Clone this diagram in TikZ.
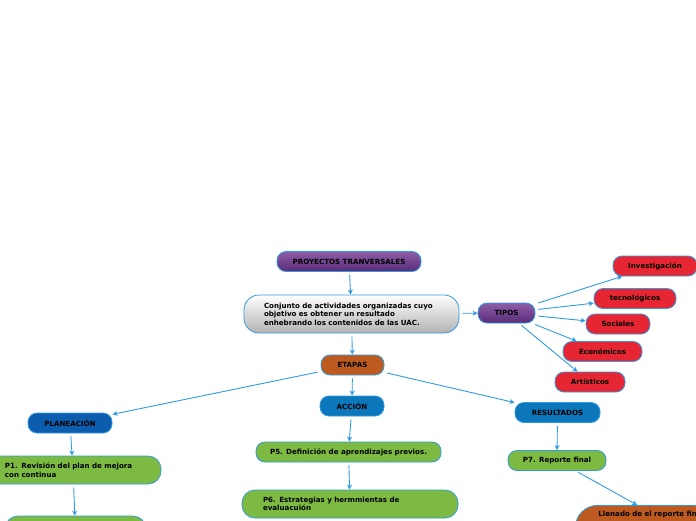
\documentclass[tikz,border=0pt]{standalone}
\usepackage{fontspec}
\setmainfont{DejaVu Sans}
\usepackage{tikz}
\usetikzlibrary{arrows.meta}
\usepackage{xcolor}
\definecolor{edgeBlue}{HTML}{2F9BE3}
\definecolor{purpTop}{HTML}{8D5DA8}
\definecolor{purpBot}{HTML}{5A2B77}
\definecolor{tipoRed}{HTML}{E62632}
\definecolor{stepGreen}{HTML}{7DBA42}
\definecolor{etapaOrange}{HTML}{BD5A1F}
\definecolor{planBlue}{HTML}{0D5DAE}
\definecolor{actBlue}{HTML}{0C77BA}
\definecolor{grayBot}{HTML}{B3B3B3}

\begin{document}
\begin{tikzpicture}[x=1pt, y=-1pt,
    box/.style={draw=edgeBlue, line width=0.8pt, rounded corners=9pt, inner sep=0pt,
                minimum height=20pt, align=center, text=black,
                font=\fontsize{7.1}{8.6}\selectfont\bfseries},
    purplebox/.style={box, top color=purpTop, bottom color=purpBot},
    tipo/.style={box, fill=tipoRed},
    greenbox/.style={box, fill=stepGreen},
    link/.style={draw=edgeBlue, line width=0.9pt, shorten <=3pt,
                 -{Stealth[length=5pt,width=5pt]}},
]
    \clip (0,0) rectangle (696,520);
    % centro
    \node[purplebox, minimum width=144pt] (proy) at (349,261.5) {PROYECTOS TRANVERSALES};
    \node[box, top color=white, bottom color=grayBot, rounded corners=15pt,
          minimum height=38pt, text width=175pt, inner xsep=20pt, align=left] (conj) at (351.5,314)
        {Conjunto de actividades organizadas cuyo\\objetivo es obtener un resultado\\enhebrando los contenidos de las UAC.};
    % tipos
    \node[purplebox, minimum width=57pt] (tipos) at (506.5,313) {TIPOS};
    \node[tipo, minimum width=84pt] (inv) at (655,266) {Investigación};
    \node[tipo, minimum width=82pt] (tec) at (635,298.5) {tecnológicos};
    \node[tipo, minimum width=64pt] (soc) at (618,324) {Sociales};
    \node[tipo, minimum width=79pt] (eco) at (602.5,351.5) {Económicos};
    \node[tipo, minimum width=70pt] (art) at (590,382) {Artísticos};
    % etapas
    \node[box, fill=etapaOrange, minimum width=63pt] (etapas) at (352.5,365) {ETAPAS};
    \node[box, fill=planBlue, minimum width=84pt] (plan) at (70,423) {PLANEACIÓN};
    \node[box, fill=actBlue, minimum width=64pt] (accion) at (352,406) {ACCIÓN};
    \node[box, fill=actBlue, minimum width=85pt] (result) at (557.5,412.5) {RESULTADOS};
    % pasos
    \node[greenbox, minimum height=28pt, text width=136pt, inner xsep=20pt, align=left,
          rounded corners=13pt] (p1) at (73,470)
        {P1. Revisión del plan de mejora\\con continua};
    \node[greenbox, minimum width=141pt, minimum height=30pt, rounded corners=13pt] (p2) at (75.5,531) {};
    \node[greenbox, minimum width=185pt] (p5) at (348.5,452) {P5. Definición de aprendizajes previos.};
    \node[greenbox, minimum height=28pt, text width=174pt, inner xsep=21pt, align=left,
          rounded corners=13pt] (p6) at (350,504)
        {P6. Estrategias y hermmientas de\\evaluacuión};
    \node[greenbox, minimum width=98pt] (p7) at (557,460.5) {P7. Reporte final};
    \node[box, fill=etapaOrange, anchor=north west, rounded corners=22pt, text width=200pt,
          inner xsep=23pt, inner ysep=6pt, text depth=50pt, align=left] (llen) at (575,505)
        {Llenado de el reporte final};
    % conectores
    \draw[link] (proy) -- (conj);
    \draw[link] (conj) -- (tipos);
    \foreach \t in {inv,tec,soc,eco,art}
        \draw[link] (tipos) -- (\t);
    \draw[link] (conj) -- (etapas);
    \draw[link] (etapas) -- (plan);
    \draw[link] (etapas) -- (accion);
    \draw[link] (etapas) -- (result);
    \draw[link] (plan) -- (p1);
    \draw[link] (p1) -- (p2);
    \draw[link] (accion) -- (p5);
    \draw[link] (p5) -- (p6);
    \draw[link] (result) -- (p7);
    \draw[link] (p7) -- (llen);
\end{tikzpicture}
\end{document}
